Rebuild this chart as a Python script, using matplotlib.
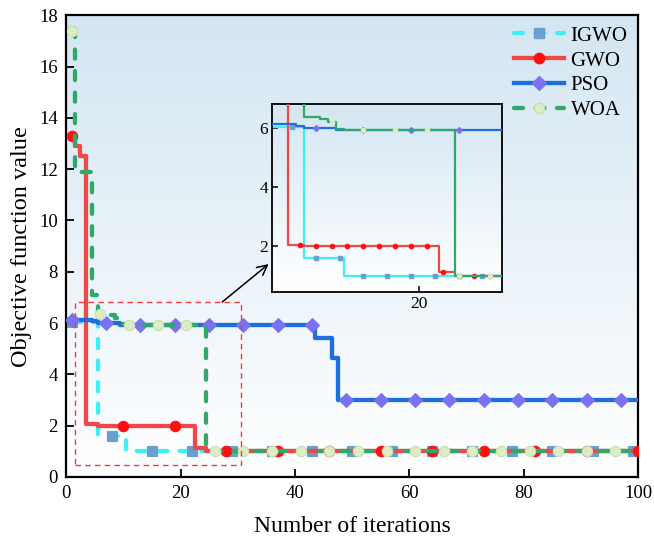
import numpy as np
import matplotlib
matplotlib.use('Agg')
import matplotlib.pyplot as plt
from matplotlib.lines import Line2D
from matplotlib.patches import Rectangle
from matplotlib.colors import LinearSegmentedColormap

plt.rcParams['font.family'] = 'serif'
plt.rcParams['font.serif'] = ['Liberation Serif', 'DejaVu Serif']

# best objective value per iteration (1..100)
iters = np.arange(1, 101)

igwo = np.array([6.02] * 5 + [1.6] * 5 + [1.0] * 90)
gwo = np.array([13.3, 12.9, 12.5, 2.05, 2.05] + [2.0] * 17 + [1.12, 1.12] + [1.0] * 76)
pso = np.array([6.12] * 4 + [6.06] + [6.0] * 4 + [5.92] * 34 + [5.4] * 3 + [4.65] + [3.0] * 53)
woa = np.array([17.4, 11.9, 11.9, 11.9, 7.1, 6.37, 6.37, 6.3, 6.2, 5.97]
               + [5.92] * 14 + [1.0] * 76)

names = ['IGWO', 'GWO', 'PSO', 'WOA']
series = [igwo, gwo, pso, woa]
line_colors = ['#3ef0f5', '#f04848', '#1e6fdc', '#2fa86a']
mk_colors = ['#6a9fd0', '#ff1010', '#7b72f2', '#dcedc6']
mk_edges = ['#6a9fd0', '#ff1010', '#7b72f2', '#c9e0b0']
markers = ['s', 'o', 'D', 'o']
main_ms = [6.5, 7.5, 7.5, 7.5]
dash = (0, (2.1, 2.9))
main_ls = [dash, '-', '-', dash]
main_every = [7, 9, 6, 5]
inset_every = [3, 2, 6, 4]


def gradient_bg(ax):
    cmap = LinearSegmentedColormap.from_list('bg', ['#ffffff', '#d4e6f2'])
    grad = np.linspace(0, 1, 256).reshape(-1, 1)
    ax.imshow(grad, cmap=cmap, extent=[0, 1, 0, 1], transform=ax.transAxes,
              aspect='auto', origin='lower', zorder=0, interpolation='bicubic')


fig = plt.figure(figsize=(6.54, 5.45), dpi=100)
ax = fig.add_axes([0.101, 0.125, 0.875, 0.847])
gradient_bg(ax)

for i in range(4):
    y = series[i]
    ax.plot(iters, y, ds='steps-mid', color=line_colors[i], lw=3.1,
            ls=main_ls[i], dash_capstyle='round', zorder=2 + i)
    idx = np.arange(0, len(iters), main_every[i])
    ax.plot(iters[idx], y[idx], ls='none', marker=markers[i], ms=main_ms[i],
            mfc=mk_colors[i], mec=mk_edges[i], mew=0.8, zorder=2 + i)

ax.set_xlim(0, 100)
ax.set_ylim(0, 18)
ax.set_xticks(np.arange(0, 101, 20))
ax.set_yticks(np.arange(0, 19, 2))
ax.tick_params(direction='in', length=6, width=1.3, labelsize=13.5, pad=6)
for s in ax.spines.values():
    s.set_linewidth(1.6)
ax.set_xlabel('Number of iterations', fontsize=17, labelpad=10)
ax.set_ylabel('Objective function value', fontsize=17.5, labelpad=5)

# zoomed region marker
ax.add_patch(Rectangle((1.5, 0.45), 29, 6.35, fill=False, ec='#f03c3c',
                       lw=1.0, ls=(0, (4, 3)), zorder=8))
ax.annotate('', xy=(35.4, 8.3), xytext=(27.3, 6.82),
            arrowprops=dict(arrowstyle='->', lw=1.1, color='black',
                            mutation_scale=18, shrinkA=0, shrinkB=0),
            zorder=9)

handles = [Line2D([], [], color=line_colors[i], lw=3.1, ls=main_ls[i],
                  dash_capstyle='round', marker=markers[i], ms=main_ms[i],
                  mfc=mk_colors[i], mec=mk_edges[i]) for i in range(4)]
ax.legend(handles, names, loc='upper right', frameon=False, fontsize=15,
          handlelength=2.4, labelspacing=0.25, handletextpad=0.3,
          bbox_to_anchor=(1.014, 1.017))

# inset with the first 30 iterations
axin = fig.add_axes([0.416, 0.464, 0.352, 0.345])
gradient_bg(axin)
for i in range(4):
    y = series[i]
    axin.plot(iters, y, ds='steps-mid', color=line_colors[i], lw=1.6, zorder=2 + i)
    idx = np.arange(0, len(iters), inset_every[i])
    axin.plot(iters[idx], y[idx], ls='none', marker=markers[i], ms=3,
              mfc=mk_colors[i], mec=mk_colors[i], zorder=2 + i)
axin.set_xlim(1.5, 30.5)
axin.set_ylim(0.45, 6.8)
axin.set_xticks([20])
axin.set_yticks([2, 4, 6])
axin.tick_params(direction='in', length=4, width=1.1, labelsize=12.5, pad=3)
for s in axin.spines.values():
    s.set_linewidth(1.3)

fig.savefig('out.png', dpi=100)
